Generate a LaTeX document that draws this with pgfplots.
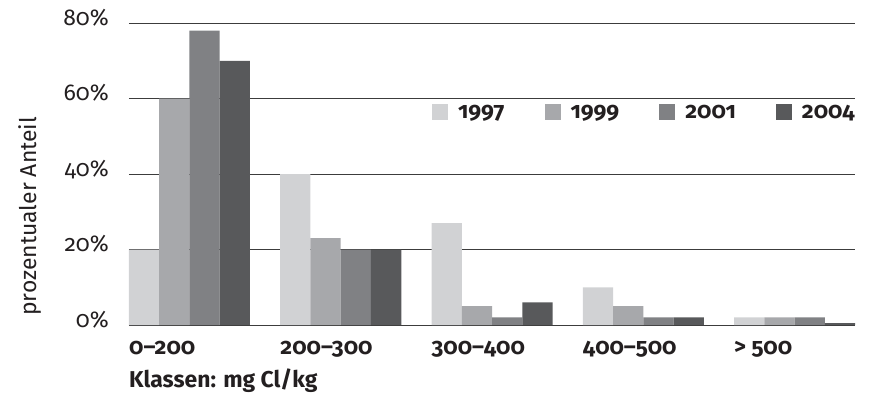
\documentclass[border=0pt]{standalone}
\usepackage{pgfplots}
\pgfplotsset{compat=1.18}
\usepackage{fontspec}
\setmainfont{Fira Sans}[Numbers=OldStyle]
\definecolor{cA}{HTML}{D1D2D4}
\definecolor{cB}{HTML}{A7A8AB}
\definecolor{cC}{HTML}{808184}
\definecolor{cD}{HTML}{58595B}
\definecolor{txt}{HTML}{231F20}
\definecolor{grd}{HTML}{3C3C3C}
\newcommand{\fs}{\fontsize{23}{27}\selectfont}
\begin{document}
\begin{tikzpicture}
\useasboundingbox (-129bp,-72bp) rectangle (748bp,325bp);
\begin{axis}[
  scale only axis, width=726bp, height=302bp,
  ybar, bar width=0.2,
  xmin=-0.4, xmax=4.4, ymin=0, ymax=80,
  axis line style={draw=none},
  ymajorgrids, grid style={grd, line width=1bp},
  major tick length=0pt,
  xtick={-0.4,0.6,1.6,2.6,3.6},
  xticklabels={0–200,200–300,300–400,400–500,> 500},
  xticklabel style={anchor=base west, inner sep=0pt, yshift=-29bp, font=\fs\bfseries, text=txt},
  ytick={0,20,40,60,80},
  yticklabels={0\%,20\%,40\%,60\%,80\%},
  yticklabel style={anchor=base east, inner sep=0pt, xshift=-20bp, yshift=-2bp, font=\fs, text=txt},
  clip=false,
  legend columns=4,
  legend style={draw=none, fill=none, at={(1,0.705)}, anchor=east, inner sep=0pt,
    font=\fs\bfseries, text=txt,
    nodes={inner sep=0pt},
    /tikz/every odd column/.append style={column sep=10bp},
    /tikz/every even column/.append style={column sep=40bp}},
  legend image code/.code={\fill[#1] (0bp,-8bp) rectangle (16bp,8bp);},
]
\addplot[fill=cA, draw=none, bar shift=-0.3] coordinates {(0,20) (1,40) (2,27) (3,10) (4,2)};
\addplot[fill=cB, draw=none, bar shift=-0.1] coordinates {(0,60) (1,23) (2,5) (3,5) (4,2)};
\addplot[fill=cC, draw=none, bar shift=0.1] coordinates {(0,78) (1,20) (2,2) (3,2) (4,2)};
\addplot[fill=cD, draw=none, bar shift=0.3] coordinates {(0,70) (1,20) (2,6) (3,2) (4,0.5)};
\legend{1997,1999,2001,2004}
\node[rotate=90, anchor=center, font=\fs, text=txt] at (rel axis cs:-0.1364,0.36) {prozentualer Anteil};
\node[anchor=base west, inner sep=0pt, font=\fs\bfseries, text=txt] at (rel axis cs:0,-0.2086) {Klassen: mg Cl/kg};
\end{axis}
\end{tikzpicture}
\end{document}
